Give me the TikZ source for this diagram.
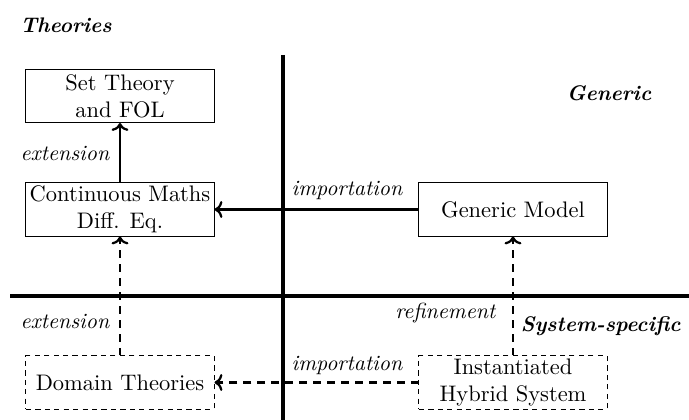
\documentclass[tikz,border=0pt]{standalone}
\usetikzlibrary{arrows.meta}
\begin{document}
\begin{tikzpicture}[x=0.445pt,y=-0.445pt,
  box/.style={draw,line width=0.45pt,minimum width=83.7pt,minimum height=23.6pt,align=center,inner sep=0pt},
  dbox/.style={box,dash pattern=on 2.3pt off 1.9pt},
  conn/.style={line width=1pt,-{To[length=3.5pt,width=7.5pt]}},
  dconn/.style={conn,dash pattern=on 3.5pt off 2.7pt},
  lbl/.style={font=\itshape,scale=0.97},
  heading/.style={font=\bfseries\itshape,scale=0.94},
  axis/.style={line width=1.6pt}]
\useasboundingbox (0,0) rectangle (689,420);
\node[heading] (theo) at (66,25) {Theories};
\node[heading] (gen) at (609,93) {Generic};
\node[heading,anchor=east] (sys) at (688,326) {System-specific};
\coordinate (vtop) at (283,55);
\coordinate (vbot) at (283,420);
\coordinate (hl) at (10,296);
\coordinate (hr) at (689,296);
\draw[axis] (vtop) -- (vbot);
\draw[axis] (hl) -- (hr);
\node[box] (set) at (120,96) {Set Theory\\and FOL};
\node[box] (cm) at (120,209.5) {Continuous Maths\\Diff. Eq.};
\node[box] (gm) at (513,209.5) {Generic Model};
\node[dbox] (dt) at (120,382.5) {Domain Theories};
\node[dbox] (ih) at (513,382.5) {Instantiated\\Hybrid System};
\draw[conn] (cm) -- (set);
\draw[conn] (gm) -- (cm);
\draw[dconn] (dt) -- (cm);
\draw[dconn] (ih) -- (gm);
\draw[dconn] (ih) -- (dt);
\node[lbl] (l1) at (65,153) {extension};
\node[lbl] (l2) at (65,321) {extension};
\node[lbl] (l3) at (347,190) {importation};
\node[lbl] (l4) at (347,365) {importation};
\node[lbl,anchor=east] (l5) at (503,313) {refinement};
\end{tikzpicture}
\end{document}
